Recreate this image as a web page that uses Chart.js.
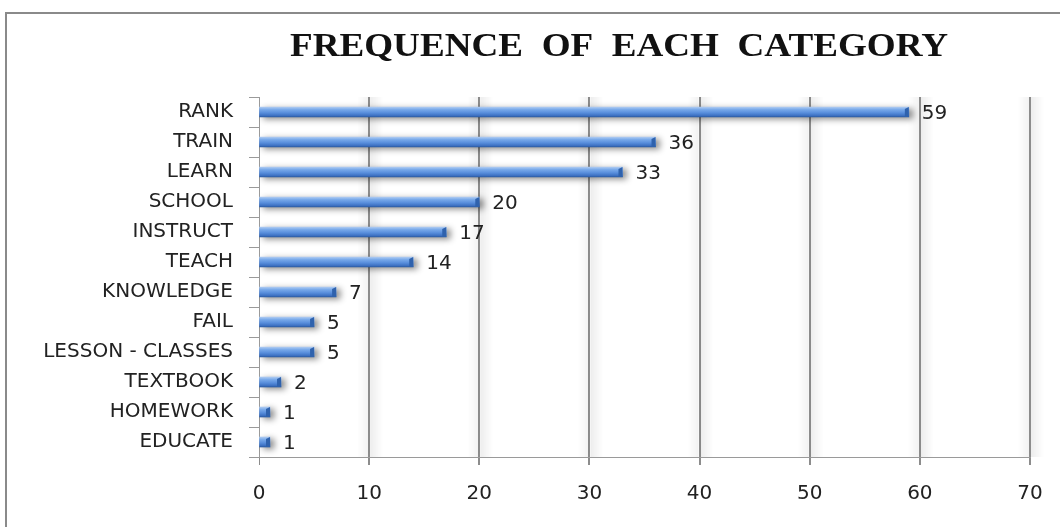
<!DOCTYPE html>
<html>
<head>
<meta charset="utf-8">
<script src="https://cdn.jsdelivr.net/npm/chart.js@4"></script>
<style>
  html, body { margin: 0; padding: 0; background: #fff; overflow: hidden; }
  #wrap { position: relative; width: 1060px; height: 527px; }
  #frame { position: absolute; left: 5px; top: 12px; width: 1100px; height: 600px;
           border: 2px solid #8a8a8a; box-sizing: border-box; }
  canvas { position: absolute; left: 0; top: 0; }
</style>
</head>
<body>
<div id="wrap">
  <div id="frame"></div>
  <canvas id="chart" width="1060" height="527"></canvas>
</div>
<script>
// ── data ────────────────────────────────────────────────
const TITLE = 'FREQUENCE  OF  EACH  CATEGORY';
const categories = ['RANK', 'TRAIN', 'LEARN', 'SCHOOL', 'INSTRUCT', 'TEACH',
                    'KNOWLEDGE', 'FAIL', 'LESSON - CLASSES', 'TEXTBOOK', 'HOMEWORK', 'EDUCATE'];
const frequencies = [59, 36, 33, 20, 17, 14, 7, 5, 5, 2, 1, 1];
const xMin = 0, xMax = 70, xStep = 10;

// ── bar gradient (3D look) ───────────────────────────────
function barFill(c) {
  const chart = c.chart;
  if (!chart.chartArea || !chart.scales.y) return '#568cdb';
  const yc = chart.scales.y.getPixelForValue(c.dataIndex);
  const g = chart.ctx.createLinearGradient(0, yc - 5, 0, yc + 5);
  g.addColorStop(0, '#aecbf2');
  g.addColorStop(0.25, '#7aaaea');
  g.addColorStop(0.6, '#568cdb');
  g.addColorStop(0.88, '#3b6fc0');
  g.addColorStop(1, '#2a5aa0');
  return g;
}

// ── plugins ──────────────────────────────────────────────
const titlePlugin = {
  id: 'bigTitle',
  afterDraw(chart) {
    const ctx = chart.ctx;
    ctx.save();
    ctx.font = 'bold 33px "Liberation Serif"';
    ctx.fillStyle = '#111';
    ctx.textBaseline = 'alphabetic';
    const w = ctx.measureText(TITLE).width;
    ctx.translate(619, 56);
    ctx.scale(658 / w, 1);
    ctx.textAlign = 'center';
    ctx.fillText(TITLE, 0, 0);
    ctx.restore();
  }
};

const gridShade = {
  id: 'gridShade',
  beforeDatasetsDraw(chart) {
    const { ctx, chartArea, scales } = chart;
    ctx.save();
    for (let v = xMin + xStep; v <= xMax; v += xStep) {
      const x = scales.x.getPixelForValue(v);
      let g = ctx.createLinearGradient(x + 1, 0, x + 14, 0);
      g.addColorStop(0, 'rgba(0,0,0,0.07)');
      g.addColorStop(1, 'rgba(0,0,0,0)');
      ctx.fillStyle = g;
      ctx.fillRect(x + 1, chartArea.top, 13, chartArea.bottom - chartArea.top);
      g = ctx.createLinearGradient(x - 1, 0, x - 12, 0);
      g.addColorStop(0, 'rgba(0,0,0,0.05)');
      g.addColorStop(1, 'rgba(0,0,0,0)');
      ctx.fillStyle = g;
      ctx.fillRect(x - 12, chartArea.top, 11, chartArea.bottom - chartArea.top);
    }
    ctx.restore();
  },
  beforeDatasetDraw(chart) {
    const ctx = chart.ctx;
    ctx.shadowColor = 'rgba(0,0,0,0.45)';
    ctx.shadowBlur = 6;
    ctx.shadowOffsetX = 4;
    ctx.shadowOffsetY = 2;
  },
  afterDatasetDraw(chart) {
    const ctx = chart.ctx;
    ctx.shadowColor = 'rgba(0,0,0,0)';
    ctx.shadowBlur = 0;
    ctx.shadowOffsetX = 0;
    ctx.shadowOffsetY = 0;
  }
};

// darker bevel at the end of every bar, then the value
const valueLabels = {
  id: 'valueLabels',
  afterDatasetsDraw(chart) {
    const ctx = chart.ctx;
    const meta = chart.getDatasetMeta(0);
    ctx.save();
    meta.data.forEach(bar => {
      const h = bar.height / 2;
      const w = Math.min(4, bar.x - bar.base);
      ctx.fillStyle = '#2f62ad';
      ctx.beginPath();
      ctx.moveTo(bar.x - w, bar.y - h + 2);
      ctx.lineTo(bar.x, bar.y - h);
      ctx.lineTo(bar.x, bar.y + h);
      ctx.lineTo(bar.x - w, bar.y + h);
      ctx.closePath();
      ctx.fill();
    });
    ctx.font = '20px "DejaVu Sans"';
    ctx.fillStyle = '#222';
    ctx.textBaseline = 'middle';
    ctx.textAlign = 'left';
    meta.data.forEach((bar, i) => {
      ctx.fillText(String(frequencies[i]), bar.x + 13, bar.y + 2);
    });
    ctx.restore();
  }
};

// ── chart ────────────────────────────────────────────────
new Chart(document.getElementById('chart'), {
  type: 'bar',
  data: {
    labels: categories,
    datasets: [{
      data: frequencies,
      backgroundColor: barFill,
      borderWidth: 0,
      barThickness: 10
    }]
  },
  options: {
    indexAxis: 'y',
    responsive: false,
    animation: false,
    layout: { padding: { top: 97, right: 30, bottom: 0, left: 0 } },
    plugins: { legend: { display: false }, tooltip: { enabled: false }, title: { display: false } },
    scales: {
      x: {
        min: xMin, max: xMax,
        ticks: { stepSize: xStep, color: '#222', padding: 17, font: { family: 'DejaVu Sans', size: 20 } },
        grid: {
          color: '#8c8c8c',
          lineWidth: c => (c.tick && c.tick.value === 0 ? 1 : 2),
          tickLength: 8
        },
        border: { color: '#9a9a9a', width: 1 },
        afterFit(scale) { scale.height = 70; }
      },
      y: {
        ticks: { color: '#222', padding: 16, font: { family: 'DejaVu Sans', size: 20 } },
        grid: { offset: true, drawOnChartArea: false, tickLength: 10, color: '#9a9a9a' },
        border: { color: '#9a9a9a', width: 1 },
        afterFit(scale) { scale.width = 259; }
      }
    }
  },
  plugins: [titlePlugin, gridShade, valueLabels]
});
</script>
</body>
</html>
